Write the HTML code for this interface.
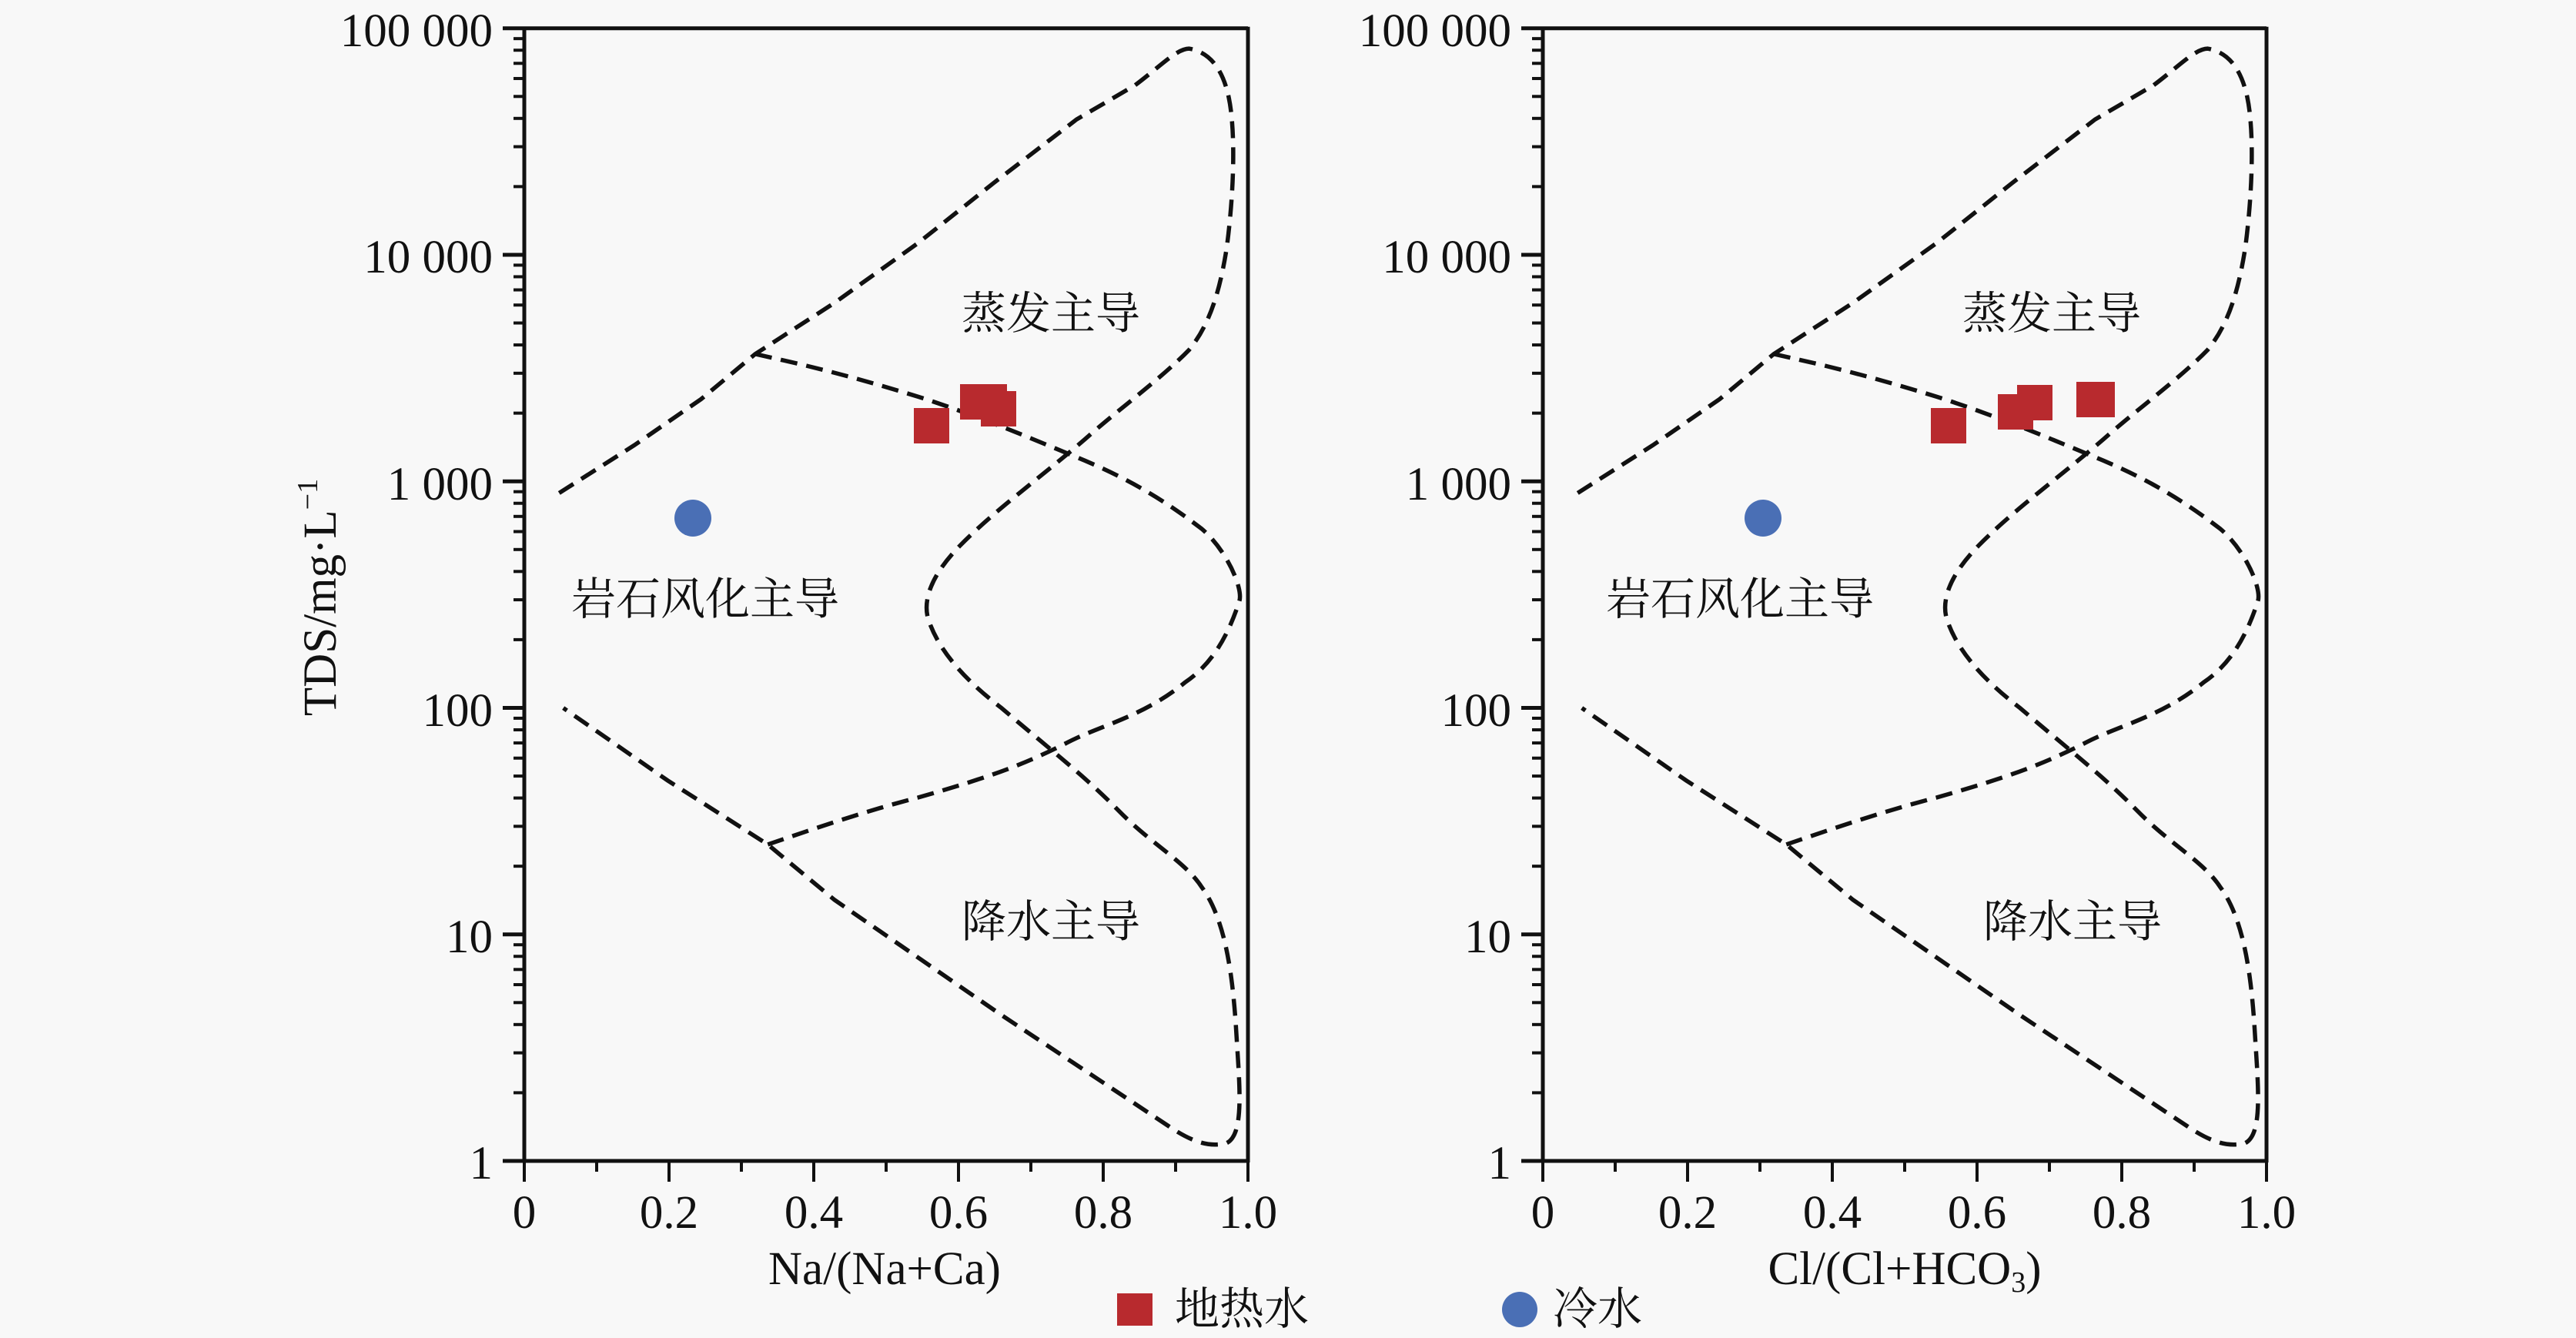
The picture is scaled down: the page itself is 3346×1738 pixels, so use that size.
<!DOCTYPE html>
<html><head><meta charset="utf-8"><style>
html,body{margin:0;padding:0;background:#f8f8f8;}
svg{display:block;}
text{font-family:"Liberation Serif","Noto Serif CJK SC",serif;fill:#111;}
.cj{font-family:"Liberation Serif","Noto Serif CJK SC","Noto Sans CJK SC",serif;}
</style></head><body>
<svg id="s" width="3346" height="1738" viewBox="0 0 3346 1738" xmlns="http://www.w3.org/2000/svg">
<rect width="3346" height="1738" fill="#f8f8f8"/>
<defs>
<g id="curves" fill="none" stroke="#111" stroke-width="5.5" stroke-dasharray="22 12">
<path transform="scale(1.084,1.108)" vector-effect="non-scaling-stroke" d="M670,578 L760,522 L840,468 L905,415 L1000,355 L1100,285 L1190,215 L1290,140 L1360,100 C1390,78 1410,57 1425,57 C1455,62 1470,90 1475,130 C1480,170 1478,230 1470,290 C1462,340 1450,380 1425,410 C1390,445 1340,480 1300,515 C1240,565 1190,600 1150,640 C1120,670 1105,700 1112,725 C1125,765 1160,800 1200,830 C1260,880 1300,910 1340,950 C1380,990 1420,1010 1440,1040 C1470,1080 1478,1150 1482,1220 C1486,1280 1490,1330 1470,1340 C1450,1345 1430,1340 1400,1320 L1200,1190 L1000,1055 L920,990 L800,915 L675,830"/>
<path transform="scale(1.084,1.108)" vector-effect="non-scaling-stroke" d="M905,415 C950,425 1000,435 1100,465 C1180,490 1250,520 1300,540 C1360,565 1400,590 1440,620 C1470,645 1490,690 1485,705 C1470,750 1450,780 1420,800 C1370,840 1320,850 1280,870 C1230,895 1190,910 1100,935 C1040,950 980,970 920,990"/>
</g>
</defs>
<use href="#curves"/>
<use href="#curves" x="1323"/>
<g id="axes" stroke="#111" fill="none"></g>

<circle cx="900" cy="673" r="24" fill="#4a6fb5"/>
<rect x="1187" y="530" width="46" height="46" fill="#b82a2e"/>
<rect x="1247" y="499" width="46" height="46" fill="#b82a2e"/>
<rect x="1274" y="508" width="46" height="46" fill="#b82a2e"/>
<rect x="1262" y="499" width="46" height="46" fill="#b82a2e"/>
<circle cx="2290" cy="673" r="24" fill="#4a6fb5"/>
<rect x="2508" y="530" width="46" height="46" fill="#b82a2e"/>
<rect x="2595" y="512" width="46" height="46" fill="#b82a2e"/>
<rect x="2620" y="500" width="46" height="46" fill="#b82a2e"/>
<rect x="2697" y="496" width="50" height="46" fill="#b82a2e"/>

<g font-size="61" text-anchor="end">
<text x="640" y="60">100 000</text>
<text x="640" y="354">10 000</text>
<text x="640" y="649">1 000</text>
<text x="640" y="943">100</text>
<text x="640" y="1237">10</text>
<text x="640" y="1531">1</text>
<text x="1963" y="60">100 000</text>
<text x="1963" y="354">10 000</text>
<text x="1963" y="649">1 000</text>
<text x="1963" y="943">100</text>
<text x="1963" y="1237">10</text>
<text x="1963" y="1531">1</text>
</g>
<g font-size="61" text-anchor="middle">
<text x="681" y="1595">0</text><text x="869" y="1595">0.2</text><text x="1057" y="1595">0.4</text><text x="1245" y="1595">0.6</text><text x="1433" y="1595">0.8</text><text x="1621" y="1595">1.0</text>
<text x="2004" y="1595">0</text><text x="2192" y="1595">0.2</text><text x="2380" y="1595">0.4</text><text x="2568" y="1595">0.6</text><text x="2756" y="1595">0.8</text><text x="2944" y="1595">1.0</text>
<text x="1149" y="1668">Na/(Na+Ca)</text>
<text x="2474" y="1668">Cl/(Cl+HCO<tspan font-size="38" dy="10">3</tspan><tspan dy="-10">)</tspan></text>
</g>
<text font-size="61" text-anchor="middle" transform="translate(436,776) rotate(-90)">TDS/mg·L<tspan font-size="38" dy="-24">−1</tspan></text>

<g class="cj" font-size="58" text-anchor="middle">
<text x="1365" y="427">蒸发主导</text>
<text x="916" y="798">岩石风化主导</text>
<text x="1365" y="1217">降水主导</text>
<text x="2665" y="427">蒸发主导</text>
<text x="2260" y="798">岩石风化主导</text>
<text x="2692" y="1217">降水主导</text>
</g>
<rect x="1451" y="1680" width="46" height="42" fill="#b82a2e"/>
<text class="cj" x="1526" y="1720" font-size="58">地热水</text>
<circle cx="1974" cy="1701" r="23" fill="#4a6fb5"/>
<text class="cj" x="2017" y="1720" font-size="58">冷水</text>
</svg>
<script>
(function(){
var g=document.getElementById('axes'),ns='http://www.w3.org/2000/svg';
function L(x1,y1,x2,y2,w){var l=document.createElementNS(ns,'line');l.setAttribute('x1',x1);l.setAttribute('y1',y1);l.setAttribute('x2',x2);l.setAttribute('y2',y2);l.setAttribute('stroke-width',w||4);g.appendChild(l);}
[[681,1621],[2004,2944]].forEach(function(p){
var x0=p[0],x1=p[1],top=36.7,bot=1508,dec=(bot-top)/5;
L(x0,top,x1,top,5);L(x0,bot,x1,bot,5);L(x0,top-2,x0,bot+2,5);L(x1,top-2,x1,bot+2,5);
for(var d=0;d<=5;d++){var y=bot-d*dec;L(x0-28,y,x0,y,5);
 if(d<5)for(var k=2;k<=9;k++){var yy=y-dec*Math.log10(k);L(x0-14,yy,x0,yy,4);}}
for(var i=0;i<=10;i++){var x=x0+(x1-x0)*i/10;L(x,bot,x,bot+(i%2?14:27),4);}
});
})();
</script>
</body></html>
